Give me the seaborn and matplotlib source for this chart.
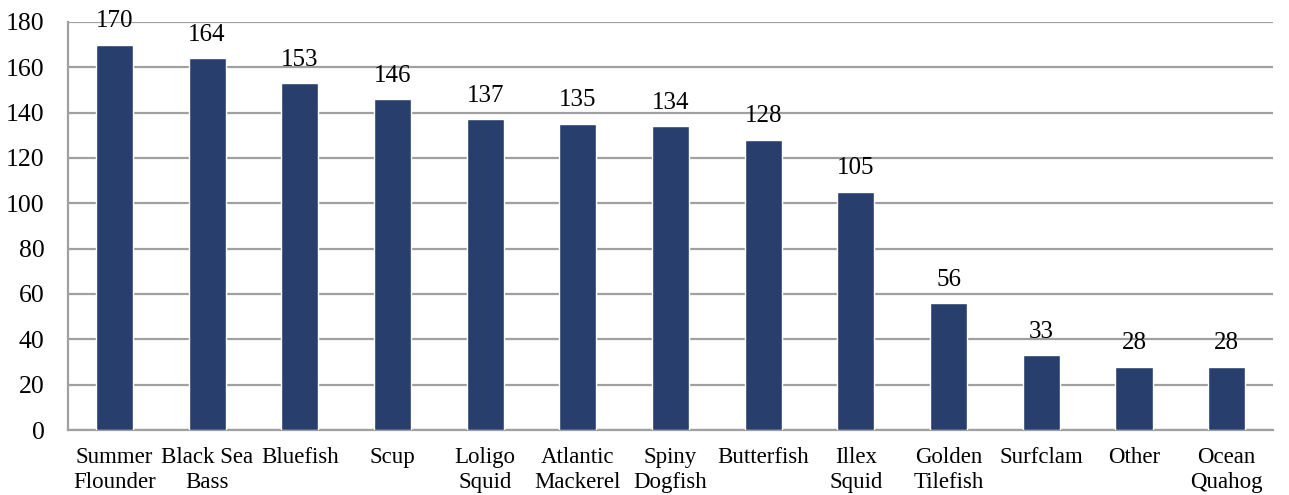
import numpy as np
import pandas as pd
import seaborn as sns
import matplotlib.pyplot as plt

species = ["Summer\nFlounder", "Black Sea\nBass", "Bluefish", "Scup", "Loligo\nSquid",
           "Atlantic\nMackerel", "Spiny\nDogfish", "Butterfish", "Illex\nSquid",
           "Golden\nTilefish", "Surfclam", "Other", "Ocean\nQuahog"]
counts = [170, 164, 153, 146, 137, 135, 134, 128, 105, 56, 33, 28, 28]

sns.set_style("white")
plt.rcParams['font.family'] = ['Liberation Serif', 'DejaVu Serif']
plt.rcParams['text.color'] = 'black'
plt.rcParams['xtick.color'] = 'black'
plt.rcParams['ytick.color'] = 'black'

df = pd.DataFrame({"species": species, "count": counts})

fig = plt.figure(figsize=(12.89, 4.95), dpi=100)
ax = fig.add_axes([0.0528, 0.1313, 0.9348, 0.8243])

sns.barplot(data=df, x="species", y="count", color="#283F6E", saturation=1,
            width=0.4, ax=ax, zorder=3)

for i, v in enumerate(counts):
    ax.annotate(str(v), (i, v), xytext=(0, 9), textcoords="offset points",
                ha="center", va="bottom", fontsize=18, color="black", zorder=4)

ax.set_ylim(0, 180)
ax.set_xlim(-0.5, len(species) - 0.5)
ax.set_yticks(np.arange(0, 181, 20))
ax.yaxis.grid(True, color="#A0A0A0", linewidth=1.6, zorder=0)
ax.set_xlabel("")
ax.set_ylabel("")

for lbl in ax.get_xticklabels():
    lbl.set_linespacing(1.3)

ax.set_xticks(np.arange(-0.5, len(species), 1), minor=True)
ax.tick_params(axis="x", which="major", length=0, labelsize=16.5, pad=12, labelcolor="black")
ax.tick_params(axis="x", which="minor", length=6, width=1.6, color="#A0A0A0")
ax.tick_params(axis="y", length=6, width=1.6, color="#A0A0A0", labelsize=18.5, pad=11,
               labelcolor="black")

for s in ["top", "right"]:
    ax.spines[s].set_visible(False)
for s in ["left", "bottom"]:
    ax.spines[s].set_color("#A0A0A0")
    ax.spines[s].set_linewidth(1.6)

plt.savefig("out.png", dpi=100)
